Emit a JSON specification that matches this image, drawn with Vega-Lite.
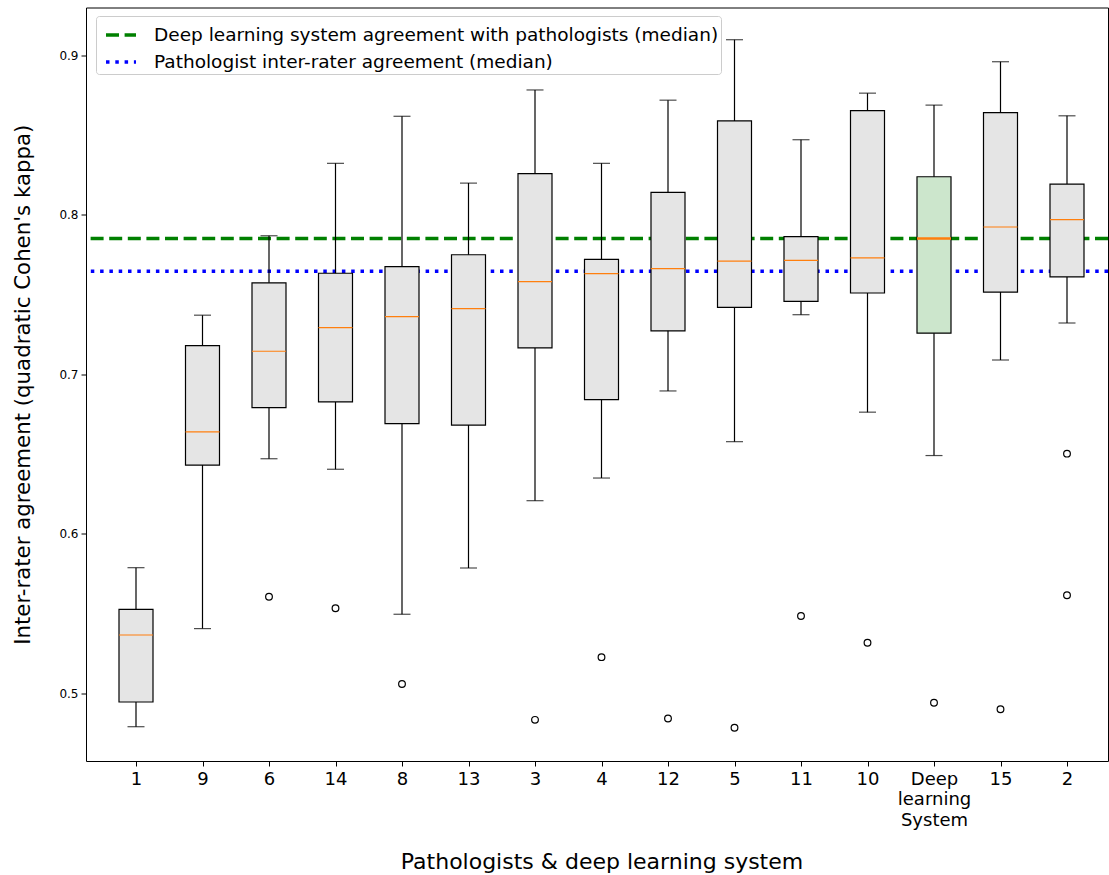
{
  "$schema": "https://vega.github.io/schema/vega-lite/v6.json",
  "width": 1022,
  "height": 753.5,
  "autosize": {"type": "none"},
  "padding": {"left": 86, "top": 7.5, "right": 1, "bottom": 114},
  "background": "white",
  "config": {
    "font": "DejaVu Sans",
    "view": {"stroke": "#000000", "strokeWidth": 1},
    "axis": {"domain": false, "grid": false, "tickColor": "#000000", "labelColor": "#000000", "titleColor": "#000000", "titleFontWeight": "normal", "tickSize": 5, "tickWidth": 1}
  },
  "datasets": {
    "boxes": [
      {"name": "1", "group": "p", "lo": 0.4789, "q1": 0.4944, "med": 0.5364, "q3": 0.5525, "hi": 0.5786},
      {"name": "9", "group": "p", "lo": 0.5404, "q1": 0.6429, "med": 0.6637, "q3": 0.7178, "hi": 0.7369},
      {"name": "6", "group": "p", "lo": 0.6469, "q1": 0.6790, "med": 0.7143, "q3": 0.7572, "hi": 0.7867},
      {"name": "14", "group": "p", "lo": 0.6403, "q1": 0.6825, "med": 0.7291, "q3": 0.7632, "hi": 0.8321},
      {"name": "8", "group": "p", "lo": 0.5494, "q1": 0.6689, "med": 0.7360, "q3": 0.7673, "hi": 0.8616},
      {"name": "13", "group": "p", "lo": 0.5784, "q1": 0.6680, "med": 0.7410, "q3": 0.7748, "hi": 0.8197},
      {"name": "3", "group": "p", "lo": 0.6206, "q1": 0.7164, "med": 0.7580, "q3": 0.8257, "hi": 0.8781},
      {"name": "4", "group": "p", "lo": 0.6348, "q1": 0.6840, "med": 0.7629, "q3": 0.7719, "hi": 0.8321},
      {"name": "12", "group": "p", "lo": 0.6894, "q1": 0.7271, "med": 0.7661, "q3": 0.8139, "hi": 0.8717},
      {"name": "5", "group": "p", "lo": 0.6576, "q1": 0.7418, "med": 0.7708, "q3": 0.8587, "hi": 0.9096},
      {"name": "11", "group": "p", "lo": 0.7372, "q1": 0.7456, "med": 0.7713, "q3": 0.7861, "hi": 0.8469},
      {"name": "10", "group": "p", "lo": 0.6761, "q1": 0.7508, "med": 0.7728, "q3": 0.8651, "hi": 0.8761},
      {"name": "Deep learning System", "group": "dl", "lo": 0.6489, "q1": 0.7256, "med": 0.7850, "q3": 0.8237, "hi": 0.8686},
      {"name": "15", "group": "p", "lo": 0.7088, "q1": 0.7514, "med": 0.7922, "q3": 0.8639, "hi": 0.8958},
      {"name": "2", "group": "p", "lo": 0.7320, "q1": 0.7609, "med": 0.7968, "q3": 0.8191, "hi": 0.8619}
    ],
    "outliers": [
      {"name": "6", "value": 0.5604},
      {"name": "14", "value": 0.5532},
      {"name": "8", "value": 0.5057},
      {"name": "3", "value": 0.4832},
      {"name": "4", "value": 0.5225},
      {"name": "12", "value": 0.4840},
      {"name": "5", "value": 0.4782},
      {"name": "11", "value": 0.5483},
      {"name": "10", "value": 0.5315},
      {"name": "Deep learning System", "value": 0.4939},
      {"name": "15", "value": 0.4898},
      {"name": "2", "value": 0.6501},
      {"name": "2", "value": 0.5613}
    ],
    "lines": [
      {"label": "Deep learning system agreement with pathologists (median)", "value": 0.785},
      {"label": "Pathologist inter-rater agreement (median)", "value": 0.7645}
    ]
  },
  "layer": [
    {
      "data": {"name": "lines"},
      "mark": {"type": "rule", "strokeWidth": 3.5},
      "encoding": {
        "y": {
          "field": "value", "type": "quantitative",
          "scale": {"domain": [0.4574, 0.9298], "nice": false, "zero": false},
          "axis": {"title": "Inter-rater agreement (quadratic Cohen's kappa)", "values": [0.5, 0.6, 0.7, 0.8, 0.9], "format": ".1f", "labelFontSize": 12, "labelPadding": 3, "titleFontSize": 21.3, "titlePadding": 25}
        },
        "color": {
          "field": "label", "type": "nominal",
          "scale": {"domain": ["Deep learning system agreement with pathologists (median)", "Pathologist inter-rater agreement (median)"], "range": ["#008000", "#0000ff"]},
          "legend": {"title": null, "orient": "none", "legendX": 10, "legendY": 8.5, "direction": "vertical", "fillColor": "rgba(255,255,255,0.85)", "strokeColor": "#cccccc", "cornerRadius": 3, "padding": 2, "labelFontSize": 18.5, "labelLimit": 800, "labelColor": "#000000", "symbolType": "stroke", "symbolSize": 900, "symbolStrokeWidth": 3.5, "symbolOffset": 6, "labelOffset": 16, "rowPadding": -3}
        },
        "strokeDash": {
          "field": "label", "type": "nominal",
          "scale": {"domain": ["Deep learning system agreement with pathologists (median)", "Pathologist inter-rater agreement (median)"], "range": [[13, 5.6], [3.5, 5.8]]}
        }
      }
    },
    {
      "data": {"name": "boxes"},
      "mark": {"type": "rule", "color": "#000000", "strokeWidth": 1.2},
      "encoding": {
        "x": {
          "field": "name", "type": "nominal",
          "scale": {"type": "point", "domain": ["1", "9", "6", "14", "8", "13", "3", "4", "12", "5", "11", "10", "Deep learning System", "15", "2"], "range": [50, 981], "padding": 0},
          "axis": {"title": "Pathologists & deep learning system", "labelAngle": 0, "labelFontSize": 18, "labelPadding": 4, "labelLineHeight": 20.5, "labelExpr": "split(datum.label, ' ')", "titleFontSize": 22, "titlePadding": 22}
        },
        "y": {"field": "lo", "type": "quantitative"},
        "y2": {"field": "hi"}
      }
    },
    {
      "data": {"name": "boxes"},
      "mark": {"type": "tick", "color": "#000000", "size": 17, "thickness": 1.2, "orient": "horizontal"},
      "encoding": {
        "x": {"field": "name", "type": "nominal"},
        "y": {"field": "lo", "type": "quantitative"}
      }
    },
    {
      "data": {"name": "boxes"},
      "mark": {"type": "tick", "color": "#000000", "size": 17, "thickness": 1.2, "orient": "horizontal"},
      "encoding": {
        "x": {"field": "name", "type": "nominal"},
        "y": {"field": "hi", "type": "quantitative"}
      }
    },
    {
      "data": {"name": "boxes"},
      "mark": {"type": "bar", "width": 34, "stroke": "#000000", "strokeWidth": 1.2},
      "encoding": {
        "x": {"field": "name", "type": "nominal"},
        "y": {"field": "q1", "type": "quantitative"},
        "y2": {"field": "q3"},
        "fill": {"field": "group", "type": "nominal", "scale": {"domain": ["p", "dl"], "range": ["#e5e5e5", "#cce6cc"]}, "legend": null}
      }
    },
    {
      "data": {"name": "boxes"},
      "transform": [{"filter": "datum.group == 'p'"}],
      "mark": {"type": "tick", "color": "#ff7f0e", "size": 34, "thickness": 1.2, "orient": "horizontal", "opacity": 1},
      "encoding": {
        "x": {"field": "name", "type": "nominal"},
        "y": {"field": "med", "type": "quantitative"}
      }
    },
    {
      "data": {"name": "boxes"},
      "transform": [{"filter": "datum.group == 'dl'"}],
      "mark": {"type": "tick", "color": "#ff7f0e", "size": 34, "thickness": 2.5, "orient": "horizontal", "opacity": 1},
      "encoding": {
        "x": {"field": "name", "type": "nominal"},
        "y": {"field": "med", "type": "quantitative"}
      }
    },
    {
      "data": {"name": "outliers"},
      "mark": {"type": "point", "shape": "circle", "filled": false, "size": 45, "stroke": "#000000", "strokeWidth": 1.2, "opacity": 1},
      "encoding": {
        "x": {"field": "name", "type": "nominal"},
        "y": {"field": "value", "type": "quantitative"}
      }
    }
  ]
}
